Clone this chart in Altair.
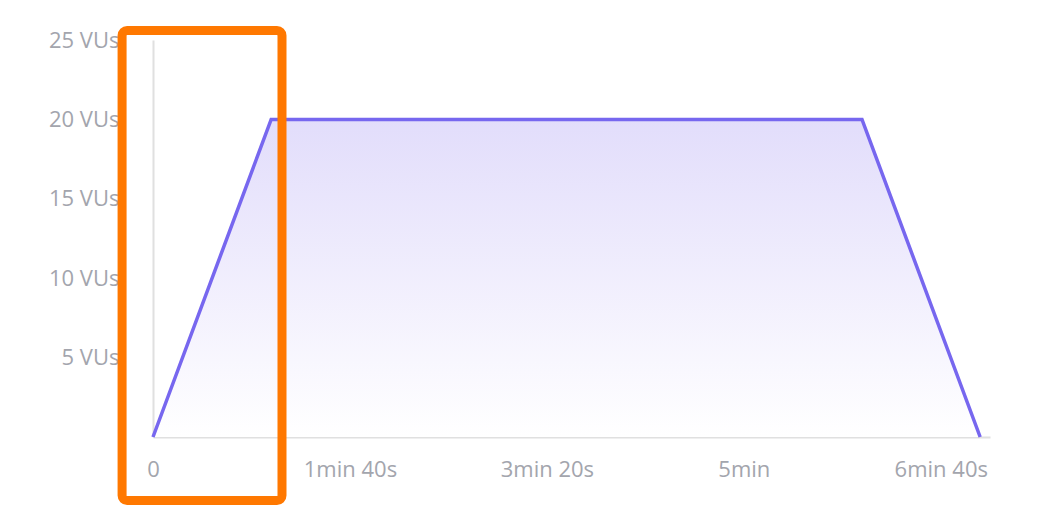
import altair as alt
import pandas as pd

seconds = [0, 60, 360, 420]
vus = [0, 20, 20, 0]
x_ticks = [0, 100, 200, 300, 400]
x_tick_labels = ["0", "1min 40s", "3min 20s", "5min", "6min 40s"]
y_ticks = [5, 10, 15, 20, 25]

df = pd.DataFrame({"t": seconds, "vus": vus})
box = pd.DataFrame({"x": [-15.7], "x2": [65.5], "y": [-4.0], "y2": [25.6]})

label_map = "{" + ",".join(f"'{v}':'{l}'" for v, l in zip(x_ticks, x_tick_labels)) + "}"

x = alt.X("t:Q", scale=alt.Scale(domain=[0, 425], nice=False),
          axis=alt.Axis(title=None, values=x_ticks, labelExpr=f"{label_map}[datum.value]",
                        grid=False, ticks=False, domainColor="#e0e0e0", domainWidth=2,
                        labelFontSize=22, labelColor="#a3a5ad", labelPadding=22, labelFlush=False))
y = alt.Y("vus:Q", scale=alt.Scale(domain=[0, 25], nice=False),
          axis=alt.Axis(title=None, values=y_ticks, labelExpr="datum.value + ' VUs'",
                        grid=False, ticks=False, domainColor="#e0e0e0", domainWidth=2,
                        labelFontSize=22, labelColor="#a3a5ad", labelPadding=34, labelBaseline="middle"))

area = alt.Chart(df).mark_area(
    color=alt.Gradient(gradient="linear", x1=0, x2=0, y1=1, y2=0,
                       stops=[alt.GradientStop(color="#ffffff", offset=0),
                              alt.GradientStop(color="#e2ddfb", offset=1)])
).encode(x=x, y=y)

line = alt.Chart(df).mark_line(color="#7767ef", strokeWidth=3.5).encode(x="t:Q", y="vus:Q")

highlight = alt.Chart(box).mark_rect(
    fill=None, stroke="#ff7800", strokeWidth=9, cornerRadius=5, clip=False
).encode(x="x:Q", x2="x2", y="y:Q", y2="y2")

chart = (area + line + highlight).properties(
    width=837, height=397,
    autosize=alt.AutoSizeParams(type="none"),
    padding={"left": 145, "top": 32, "right": 50, "bottom": 80},
).configure(font="Open Sans").configure_view(stroke=None, strokeWidth=0)

chart.save("out.html", embed_options={"renderer": "svg", "actions": False})
